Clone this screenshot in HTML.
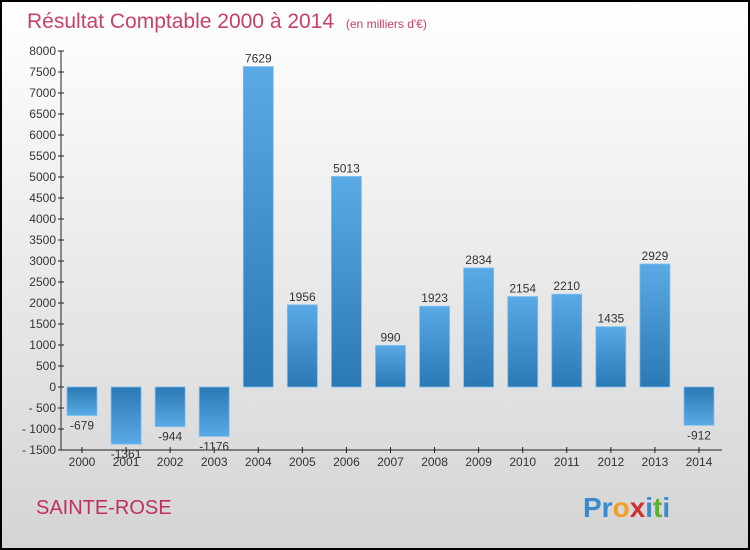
<!DOCTYPE html>
<html><head><meta charset="utf-8"><style>
body{margin:0}
#c{width:750px;height:550px;position:relative;overflow:hidden;font-family:"Liberation Sans",sans-serif}
</style></head><body>
<div id="c">
<svg id="s" width="750" height="550" xmlns="http://www.w3.org/2000/svg">
<defs>
<linearGradient id="bg" x1="0" y1="0" x2="0" y2="1"><stop offset="0" stop-color="#ffffff"/><stop offset="1" stop-color="#d4d4d4"/></linearGradient>
<linearGradient id="pos" x1="0" y1="0" x2="0" y2="1"><stop offset="0" stop-color="#5aaae6"/><stop offset="1" stop-color="#2a78b4"/></linearGradient>
<linearGradient id="neg" x1="0" y1="0" x2="0" y2="1"><stop offset="0" stop-color="#2a78b4"/><stop offset="1" stop-color="#5aaae6"/></linearGradient>
</defs>
<rect x="1" y="1" width="748" height="548" fill="url(#bg)" stroke="#000" stroke-width="2"/>
<text x="27" y="28" font-size="21" fill="#c8406a">Résultat Comptable 2000 à 2014 <tspan font-size="12" dx="6">(en milliers d'€)</tspan></text>
<text x="36" y="514" font-size="20" fill="#c0305a">SAINTE-ROSE</text>
<text x="583" y="517" font-size="28" font-weight="bold"><tspan fill="#3a8ad0">Pr</tspan><tspan fill="#f0a020">o</tspan><tspan fill="#d03030">x</tspan><tspan fill="#3a8ad0">i</tspan><tspan fill="#60b030">t</tspan><tspan fill="#3a8ad0">i</tspan></text>
<g id="axes"></g><g id="bars"></g>
</svg>
</div>
<script>
const years=["2000","2001","2002","2003","2004","2005","2006","2007","2008","2009","2010","2011","2012","2013","2014"];
const values=[-679,-1361,-944,-1176,7629,1956,5013,990,1923,2834,2154,2210,1435,2929,-912];
const yTicks=[8000,7500,7000,6500,6000,5500,5000,4500,4000,3500,3000,2500,2000,1500,1000,500,0,-500,-1000,-1500];
const NS="http://www.w3.org/2000/svg";
const yMin=-1500,yMax=8000,plotTop=51,plotBot=450,axisX=61;
function yS(v){return plotBot-(v-yMin)/(yMax-yMin)*(plotBot-plotTop);}
function xS(i){return 82+i*44.07;}
function mk(t,a,p,txt){const e=document.createElementNS(NS,t);for(const k in a)e.setAttribute(k,a[k]);if(txt!==undefined)e.textContent=txt;p.appendChild(e);return e;}
const ax=document.getElementById('axes'),bg=document.getElementById('bars');
let l=mk('line',{x1:axisX,y1:plotTop,x2:axisX,y2:plotBot,stroke:'#222'},ax);


l=mk('line',{x1:axisX,y1:plotBot,x2:722,y2:plotBot,stroke:'#222'},ax);


yTicks.forEach(v=>{
  const t=mk('line',{x1:axisX-3,y1:yS(v),x2:axisX+3,y2:yS(v),stroke:'#222'},ax);
  
  
  const tx=mk('text',{x:axisX-5,y:yS(v)+4,'font-size':12,'text-anchor':'end',fill:'#333'},ax,v<0?'- '+(-v):String(v));
  
  
});
years.forEach((yr,i)=>{
  const t=mk('line',{x1:xS(i),y1:plotBot-3,x2:xS(i),y2:plotBot+3,stroke:'#222'},ax);
  
  
  const tx=mk('text',{x:xS(i),y:plotBot+16,'font-size':12,'text-anchor':'middle',fill:'#333'},ax,yr);
  
  
});
values.forEach((v,i)=>{
  const y0=yS(0),y1=yS(v);
  const r=mk('rect',{x:xS(i)-15,y:Math.min(y0,y1),width:30,height:Math.abs(y1-y0),fill:v>=0?'url(#pos)':'url(#neg)',stroke:'#7cc0f0','stroke-width':0.8},bg);
  
  
  const ly=v>=0?y1-4:y1+14;
  const tx=mk('text',{x:xS(i),y:ly,'font-size':12,'text-anchor':'middle',fill:'#333'},bg,String(v));
  
  
});
</script>
</body></html>
